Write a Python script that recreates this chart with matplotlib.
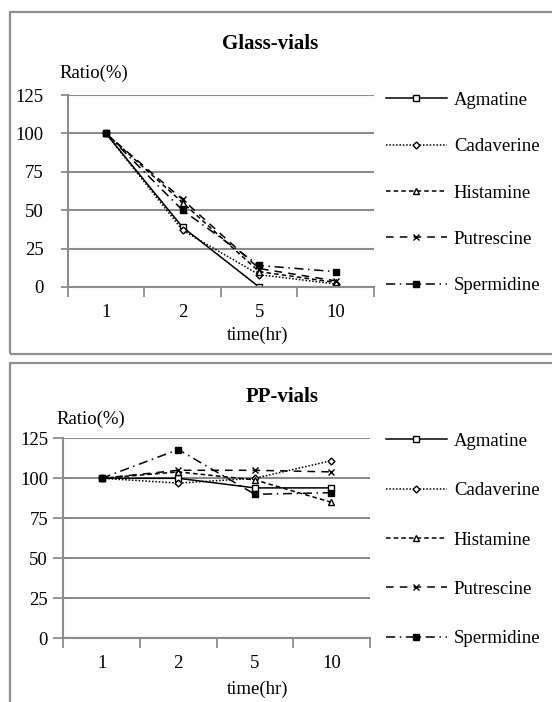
import numpy as np
import matplotlib
matplotlib.use("Agg")
import matplotlib.pyplot as plt
from matplotlib.patches import Rectangle

# ===== data =====
times = ["1", "2", "5", "10"]
series = ["Agmatine", "Cadaverine", "Histamine", "Putrescine", "Spermidine"]

glass_agmatine = [100, 39, 0, 0]
glass_cadaverine = [100, 37, 8, 2]
glass_histamine = [100, 55, 10, 3]
glass_putrescine = [100, 57, 12, 4]
glass_spermidine = [100, 50, 14, 10]

pp_agmatine = [100, 100, 94, 94]
pp_cadaverine = [100, 97, 100, 111]
pp_histamine = [100, 104, 99, 85]
pp_putrescine = [100, 105, 105, 104]
pp_spermidine = [100, 118, 90, 91]

y_ticks = [0, 25, 50, 75, 100, 125]

# ===== styles =====
styles = {
    "Agmatine":   dict(ls="-", marker="s", mfc="white", ms=4.5),
    "Cadaverine": dict(ls=(0, (1, 1.2)), marker="D", mfc="white", ms=3.5),
    "Histamine":  dict(ls=(0, (3, 2)), marker="^", mfc="white", ms=4.5),
    "Putrescine": dict(ls=(0, (5, 4)), marker="x", mfc="white", ms=5),
    "Spermidine": dict(ls=(0, (6, 3, 1, 3)), marker="s", mfc="black", ms=5),
}

plt.rcParams["font.family"] = ["Liberation Serif", "DejaVu Serif"]
W, H = 552, 702
FS = 13.5
fig = plt.figure(figsize=(W / 100, H / 100), dpi=100)
GRID = "#8c8c8c"


def px_axes(left, right, y0, y125):
    return fig.add_axes([left / W, 1 - y0 / H, (right - left) / W, (y0 - y125) / H])


def draw_panel(ax, data, title, title_xy, ratio_xy, xlabel_y, legend_y, spacing, ytick_len, ytick_pad):
    x = np.arange(len(times))
    for name, vals in zip(series, data):
        st = styles[name]
        ax.plot(x, vals, color="black", lw=1.1, linestyle=st["ls"], marker=st["marker"],
                ms=st["ms"], mfc=st["mfc"], mec="black", mew=1.0, label=name)
    ax.set_xlim(-0.5, len(times) - 0.5)
    ax.set_ylim(0, 125)
    ax.set_yticks(y_ticks)
    ax.set_yticklabels([str(v) for v in y_ticks], fontsize=FS)
    ax.yaxis.grid(True, color=GRID, lw=1.5)
    ax.set_axisbelow(True)
    ax.set_xticks(np.arange(-0.5, len(times)), minor=False)
    ax.set_xticklabels([])
    ax.set_xticks(x, minor=True)
    ax.set_xticklabels(times, minor=True, fontsize=FS)
    ax.tick_params(axis="x", which="major", length=7, width=1.3, color=GRID, direction="out")
    ax.tick_params(axis="x", which="minor", length=0, pad=12)
    ax.tick_params(axis="y", length=ytick_len, width=1.3, color=GRID, pad=ytick_pad)
    for s in ["top", "right"]:
        ax.spines[s].set_visible(False)
    for s in ["left", "bottom"]:
        ax.spines[s].set_color(GRID)
        ax.spines[s].set_linewidth(1.5)
    fig.text(title_xy[0] / W, 1 - title_xy[1] / H, title, ha="center", va="center",
             fontsize=15, fontweight="bold")
    fig.text(ratio_xy[0] / W, 1 - ratio_xy[1] / H, "Ratio(%)", ha="left", va="center", fontsize=FS)
    fig.text(258 / W, 1 - xlabel_y / H, "time(hr)", ha="center", va="center", fontsize=FS)
    ax.legend(loc="center left", bbox_to_anchor=(386 / W, 1 - legend_y / H),
              bbox_transform=fig.transFigure, frameon=False, fontsize=FS,
              handlelength=3.25, handletextpad=0.37, labelspacing=spacing,
              borderpad=0, borderaxespad=0)


# outer boxes
fig.patches.append(Rectangle((10 / W, 1 - 354 / H), 1.0, (354 - 12) / H, transform=fig.transFigure,
                             fill=False, ec="#909090", lw=1.6))
fig.patches.append(Rectangle((10 / W, -0.1), 1.0, 0.1 + (702 - 363) / H, transform=fig.transFigure,
                             fill=False, ec="#909090", lw=1.6))

ax1 = px_axes(67.6, 374, 287, 95)
draw_panel(ax1, [glass_agmatine, glass_cadaverine, glass_histamine, glass_putrescine, glass_spermidine],
           "Glass-vials", (270, 44), (59, 73), 335, 193, 1.56, 5, 12)

ax2 = px_axes(63.4, 369.7, 638.3, 438.3)
draw_panel(ax2, [pp_agmatine, pp_cadaverine, pp_histamine, pp_putrescine, pp_spermidine],
           "PP-vials", (282, 397), (56, 419), 689, 540, 1.72, 7, 4)

fig.savefig("out.png", dpi=100)
